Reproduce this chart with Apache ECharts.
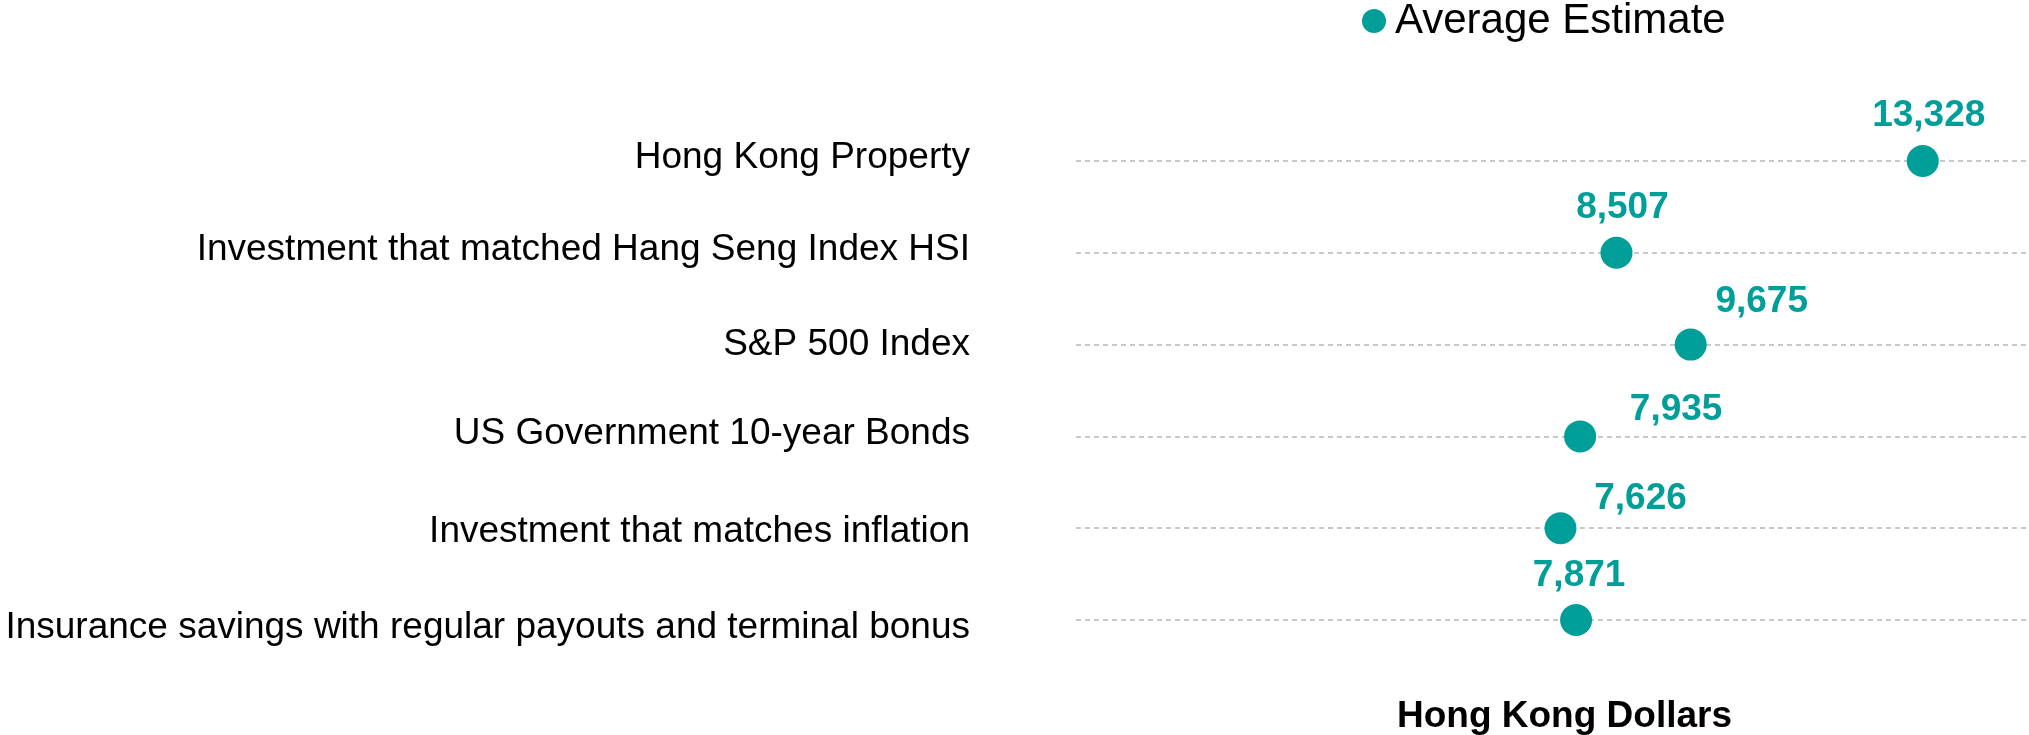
<!DOCTYPE html>
<html>
<head>
<meta charset="utf-8">
<script src="https://cdn.jsdelivr.net/npm/echarts@6/dist/echarts.min.js"></script>
<style>
  html, body { margin: 0; padding: 0; background: #fff; }
  #chart { width: 2029px; height: 735px; }
</style>
</head>
<body>
<div id="chart"></div>
<script>
// categories, top to bottom
var categories = [
    'Hong Kong Property',
    'Investment that matched Hang Seng Index HSI',
    'S&P 500 Index',
    'US Government 10-year Bonds',
    'Investment that matches inflation',
    'Insurance savings with regular payouts and terminal bonus'
];
var seriesName = 'Average Estimate';
var averageEstimate = [13328, 8507, 9675, 7935, 7626, 7871];
var axisTitle = 'Hong Kong Dollars';

// where each value label sits relative to its dot (px)
var labelNudge = [[6, -45], [6, -45], [71, -43], [96, -27], [80, -29], [3, -44]];
// category labels are not all centred on their line in the original (px, + = down)
var catShift = [-3.5, -3.5, 0.6, -3, 3.6, 8];

var teal = '#009e99';
var chart = echarts.init(document.getElementById('chart'));

var points = [];
for (var i = 0; i < averageEstimate.length; i++) {
    points.push({
        value: averageEstimate[i],
        label: { offset: labelNudge[i] }
    });
}

var catItems = [];
for (var j = 0; j < categories.length; j++) {
    catItems.push({
        value: categories[j],
        textStyle: {
            verticalAlign: catShift[j] < 0 ? 'bottom' : 'top',
            lineHeight: Math.abs(catShift[j]) * 2
        }
    });
}

chart.setOption({
    animation: false,
    legend: {
        data: [seriesName],
        left: 1362,
        top: 0,
        padding: 0,
        icon: 'circle',
        itemWidth: 24,
        itemHeight: 24,
        textStyle: {
            fontFamily: 'Liberation Sans, Arial',
            fontSize: 42,
            color: '#000',
            padding: [0, 0, 0, 4]
        }
    },
    grid: {
        left: 1076,
        right: 0,
        top: 161,
        bottom: 115,
        outerBoundsMode: 'none'
    },
    xAxis: {
        type: 'value',
        min: 0,
        max: 15000,
        axisLine: { show: false },
        axisTick: { show: false },
        axisLabel: { show: false },
        splitLine: { show: false },
        name: axisTitle,
        nameLocation: 'middle',
        nameGap: 78,
        nameTextStyle: {
            fontFamily: 'Liberation Sans, Arial',
            fontSize: 37,
            fontWeight: 'bold',
            color: '#000',
            padding: [0, 0, 0, 24]
        }
    },
    yAxis: {
        type: 'category',
        data: catItems,
        inverse: true,
        boundaryGap: false,
        axisLine: { show: false },
        axisTick: { show: false },
        axisLabel: {
            margin: 106,
            fontFamily: 'Liberation Sans, Arial',
            fontSize: 37,
            color: '#000'
        },
        splitLine: {
            show: true,
            lineStyle: { color: '#c8c8c8', width: 2, type: [5, 4] }
        }
    },
    series: [{
        name: seriesName,
        type: 'scatter',
        symbol: 'circle',
        symbolSize: 32,
        itemStyle: { color: teal, opacity: 1 },
        label: {
            show: true,
            position: 'inside',
            fontFamily: 'Liberation Sans, Arial',
            fontSize: 37,
            fontWeight: 'bold',
            color: teal,
            formatter: function (p) {
                return p.value.toLocaleString('en-US');
            }
        },
        data: points
    }]
});
</script>
</body>
</html>
